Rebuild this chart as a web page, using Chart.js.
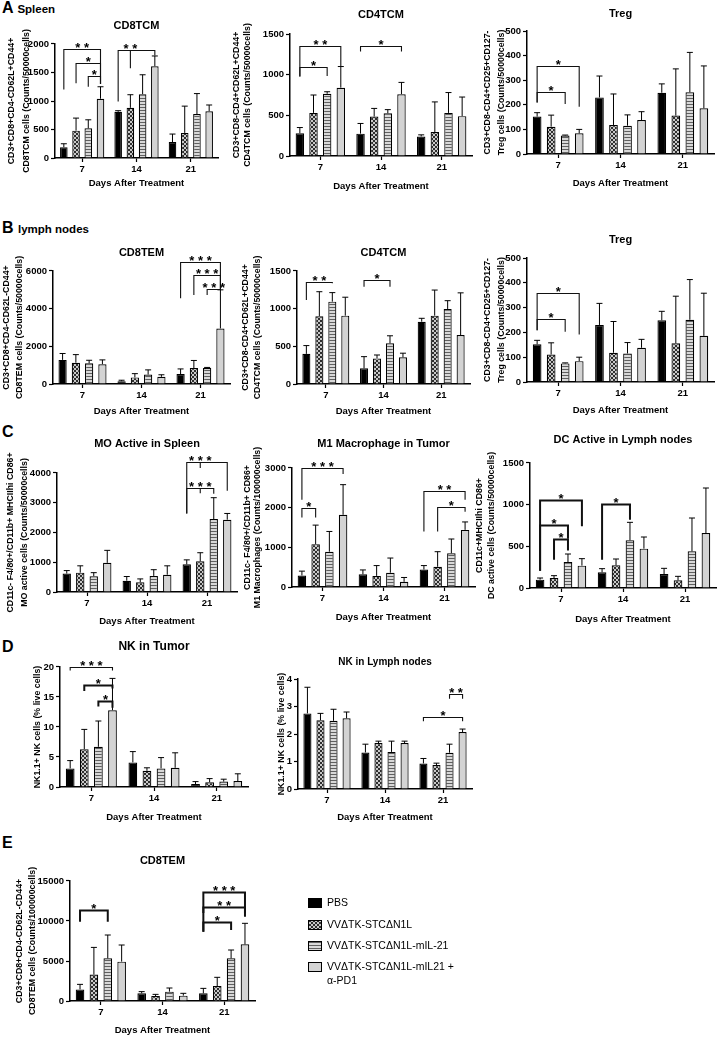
<!DOCTYPE html>
<html><head><meta charset="utf-8">
<script src="https://cdn.jsdelivr.net/npm/chart.js@4.4.1/dist/chart.umd.min.js"></script>
<style>
body{margin:0;background:#fff;}
#page{position:relative;width:721px;height:1037px;overflow:hidden;font-family:'Liberation Sans',Arial,sans-serif;background:#fff;}
canvas{position:absolute;}
.lbl{position:absolute;font-weight:bold;color:#000;white-space:nowrap;line-height:1;font-size:16px;}
.lbl span{font-size:11.5px;}
</style></head><body><div id="page">
<div class="lbl" style="left:2px;top:0px">A <span>Spleen</span></div>
<div class="lbl" style="left:2px;top:220px">B <span>lymph nodes</span></div>
<div class="lbl" style="left:2px;top:424px">C</div>
<div class="lbl" style="left:2px;top:639px">D</div>
<div class="lbl" style="left:2px;top:835px">E</div>
</div>
<script>
// ---------- data ----------
const days = ['7','14','21'];
const groupNames = ['PBS','VVΔTK-STCΔN1L','VVΔTK-STCΔN1L-mIL-21','VVΔTK-STCΔN1L-mIL21 + α-PD1'];
const xAxisTitle = 'Days After Treatment';

// each: 4 series (groups) x 3 days
const spleenCD8TCM_mean = [[190,810,280],[480,880,440],[520,1120,770],[1040,1610,820]];
const spleenCD8TCM_sd   = [[60,20,140],[220,230,470],[150,340,360],[210,180,110]];
const spleenCD4TCM_mean = [[280,275,240],[530,485,295],[765,525,530],[840,760,490]];
const spleenCD4TCM_sd   = [[70,125,20],[220,100,370],[25,45,250],[260,145,235]];
const spleenTreg_mean   = [[152,230,249],[111,118,156],[75,115,251],[84,138,186]];
const spleenTreg_sd     = [[16,87,36],[47,126,190],[2,44,162],[16,34,172]];
const lnCD8TEM_mean     = [[1280,150,530],[1130,350,850],[1100,500,850],[1050,380,2950]];
const lnCD8TEM_sd       = [[340,50,270],[430,200,400],[160,250,30],[230,110,2050]];
const lnCD4TCM_mean     = [[400,208,827],[900,340,907],[1093,540,996],[907,354,650]];
const lnCD4TCM_sd       = [[110,155,45],[325,45,340],[120,100,110],[245,55,560]];
const lnTreg_mean       = [[152,230,249],[111,118,156],[75,115,251],[84,138,186]];
const lnTreg_sd         = [[16,87,36],[47,126,190],[2,44,162],[16,34,172]];
const moSpleen_mean     = [[620,380,930],[650,330,1030],[530,540,2450],[980,580,2430]];
const moSpleen_sd       = [[100,140,150],[230,110,290],[120,210,720],[420,300,210]];
const m1Tumor_mean      = [[290,320,440],[1080,280,510],[890,360,850],[1820,130,1440]];
const m1Tumor_sd        = [[110,110,100],[480,260,380],[510,370,360],[760,110,200]];
const dcLN_mean         = [[100,188,168],[120,272,92],[312,572,440],[268,472,660]];
const dcLN_sd           = [[20,44,68],[28,76,48],[96,216,400],[84,140,540]];
const nkTumor_mean      = [[3.1,4.1,0.5],[6.3,2.7,0.8],[6.7,3.1,0.9],[12.8,3.2,1.0]];
const nkTumor_sd        = [[1.3,1.8,0.4],[3.3,0.5,0.6],[4.3,1.8,0.4],[5.3,2.5,1.2]];
const nkLN_mean         = [[2.75,1.33,0.93],[2.5,1.67,0.87],[2.48,1.35,1.32],[2.57,1.67,2.07]];
const nkLN_sd           = [[0.95,0.3,0.18],[0.25,0.07,0.07],[0.42,0.39,0.31],[0.23,0.07,0.11]];
const eCD8TEM_mean      = [[1450,960,960],[3300,625,1875],[5330,1170,5330],[4920,670,7080]];
const eCD8TEM_sd        = [[630,210,620],[3400,205,1085],[2920,455,1045],[2080,290,2630]];

// significance brackets: g=day index, a/b = group indices, y = bar height, la/lb = leg ends
const spleenCD8TCM_sig = [
  {g:0,a:0,b:3,y:1910,la:1200,lb:1300,t:'* *'},
  {g:0,a:1,b:3,y:1660,la:1310,lb:1300,t:'*'},
  {g:0,a:2,b:3,y:1430,la:1250,lb:1300,t:'*'},
  {g:1,a:0,b:3,y:1895,la:990,lb:1800,t:'* *',mid:[1,1574]}];
const spleenCD4TCM_sig = [
  {g:0,a:0,b:3,y:1347,la:976,lb:1100,t:'* *'},
  {g:0,a:0,b:2,y:1092,la:976,lb:985,t:'*'},
  {g:1,a:0,b:3,y:1347,la:1285,lb:1285,t:'*'}];
const spleenTreg_sig = [
  {g:0,a:0,b:3,y:359,la:209,lb:192,t:'*'},
  {g:0,a:0,b:2,y:253,la:209,lb:203,t:'*'}];
const lnCD8TEM_sig = [
  {g:2,a:0,b:3,y:6500,la:4550,lb:5000,t:'* * *'},
  {g:2,a:1,b:3,y:5790,la:4720,lb:5000,t:'* * *'},
  {g:2,a:2,b:3,y:5040,la:4720,lb:5000,t:'* * *'}];
const lnCD4TCM_sig = [
  {g:0,a:0,b:2,y:1358,la:1115,lb:1336,t:'* *'},
  {g:1,a:0,b:2,y:1380,la:1292,lb:1292,t:'*'}];
const lnTreg_sig = spleenTreg_sig;
const moSpleen_sig = [
  {g:2,a:0,b:3,y:4370,la:2640,lb:3400,t:'* * *',mid:[1,4168]},
  {g:2,a:0,b:2,y:3510,la:2640,lb:3300,t:'* * *',mid:[1,3320]}];
const m1Tumor_sig = [
  {g:0,a:0,b:3,y:3000,la:2200,lb:2850,t:'* * *'},
  {g:0,a:0,b:1,y:2000,la:1750,lb:1750,t:'*'},
  {g:2,a:0,b:3,y:2410,la:1400,lb:2200,t:'* *'},
  {g:2,a:1,b:3,y:2010,la:1400,lb:1900,t:'*'}];
const dcLN_sig = [
  {g:0,a:0,b:3,y:1060,la:208,lb:740,t:'*',w:2},
  {g:0,a:0,b:2,y:760,la:208,lb:592,t:'*',w:2},
  {g:0,a:1,b:2,y:588,la:340,lb:450,t:'*',w:2},
  {g:1,a:0,b:2,y:1012,la:340,lb:820,t:'*',w:2}];
const nkTumor_sig = [
  {g:0,a:0,b:3,y:20,la:19.4,lb:19.4,t:'* * *'},
  {g:0,a:1,b:3,y:17,la:16,lb:16.4,t:'*',w:2},
  {g:0,a:2,b:3,y:14.3,la:13.4,lb:13.2,t:'*',w:2}];
const nkLN_sig = [
  {g:2,a:2,b:3,y:3.46,la:3.28,lb:3.28,t:'* *'},
  {g:2,a:0,b:3,y:2.62,la:2.46,lb:2.46,t:'*'}];
const eCD8TEM_sig = [
  {g:0,a:0,b:2,y:11375,la:9920,lb:9920,t:'*',w:2},
  {g:2,a:0,b:3,y:13670,la:8670,lb:10540,t:'* * *',w:2},
  {g:2,a:0,b:3,y:11700,la:11000,lb:11000,t:'* *',w:2},
  {g:2,a:0,b:2,y:9920,la:8670,lb:8875,t:'*',w:2}];

// ---------- styling ----------
const FONT = "'Liberation Sans', Arial, sans-serif";
function hasFont(name){
  const c=document.createElement('canvas').getContext('2d');
  const s='abcdefghijklmABCDEFGH0123456789';
  c.font='20px monospace'; const w1=c.measureText(s).width;
  c.font='20px "'+name+'", monospace'; const w2=c.measureText(s).width;
  return Math.abs(w1-w2)>0.5;
}
const NARROW = hasFont('Liberation Sans Narrow');
const YT_FAMILY = NARROW ? "'Liberation Sans Narrow', 'Liberation Sans', Arial" : FONT;
const YT_SIZE = NARROW ? 10.5 : 8.8;

function makePattern(kind){
  const c=document.createElement('canvas'); const x=c.getContext('2d');
  if(kind==='checker'){
    c.width=4;c.height=4; x.fillStyle='#2e2e2e'; x.fillRect(0,0,4,4);
    x.fillStyle='#c8c8c8'; x.fillRect(0,0,2,2); x.fillRect(2,2,2,2);
  } else {
    c.width=4;c.height=3; x.fillStyle='#d8d8d8'; x.fillRect(0,0,4,3);
    x.fillStyle='#606060'; x.fillRect(0,0,4,1);
  }
  return x.createPattern(c,'repeat');
}
const fills = ['#000000', makePattern('checker'), makePattern('stripe'), '#d3d3d3'];

// ---------- chart builder ----------
function build(o){
  const titleSize=o.titleSize||11, lhT=titleSize*1.2;
  const xtSize=9.5, lhX=xtSize*1.2;
  const yLH=o.yLH||12;
  const bx=Math.floor(o.yTitleX-yLH/2-2);
  const by=Math.floor(o.titleY-lhT/2-2);
  const right=o.canvasRight||(o.area[1]+6);
  const bw=right-bx;
  const bh=Math.ceil(o.xTitleY+lhX/2+2)-by;
  const cv=document.createElement('canvas');
  cv.width=bw; cv.height=bh; cv.style.left=bx+'px'; cv.style.top=by+'px';
  document.getElementById('page').appendChild(cv);

  const datasets=o.mean.map((ser,i)=>({
    label:groupNames[i], data:ser, backgroundColor:fills[i], borderColor:'#000', borderWidth:1.2,
    categoryPercentage:0.9, barPercentage:0.62
  }));

  const overlay={
    id:'overlay',
    afterDatasetsDraw(chart){
      const ctx=chart.ctx, ys=chart.scales.y;
      ctx.save(); ctx.strokeStyle='#000'; ctx.lineWidth=1;
      o.mean.forEach((ser,i)=>{
        const meta=chart.getDatasetMeta(i);
        ser.forEach((m,g)=>{
          const x=meta.data[g].x, y0=ys.getPixelForValue(m), y1=ys.getPixelForValue(m+o.sd[i][g]);
          ctx.beginPath(); ctx.moveTo(x,y0); ctx.lineTo(x,y1);
          ctx.moveTo(x-3,y1); ctx.lineTo(x+3,y1); ctx.stroke();
        });
      });
      ctx.restore();
    },
    afterDraw(chart){
      const ctx=chart.ctx, ys=chart.scales.y;
      const bxp=(i,g)=>chart.getDatasetMeta(i).data[g].x;
      ctx.save();
      (o.sig||[]).forEach(b=>{
        const xa=bxp(b.a,b.g), xb=bxp(b.b,b.g), y=Math.round(ys.getPixelForValue(b.y))+0.5;
        ctx.strokeStyle='#111'; ctx.lineWidth=b.w||1.1;
        ctx.beginPath();
        ctx.moveTo(xa,ys.getPixelForValue(b.la)); ctx.lineTo(xa,y); ctx.lineTo(xb,y); ctx.lineTo(xb,ys.getPixelForValue(b.lb));
        let xt=(xa+xb)/2;
        if(b.mid){ const xm=bxp(b.mid[0],b.g); ctx.moveTo(xm,y); ctx.lineTo(xm,ys.getPixelForValue(b.mid[1])); xt=xm; }
        ctx.stroke();
        ctx.fillStyle='#000'; ctx.font='bold 13px '+FONT; ctx.textAlign='center'; ctx.textBaseline='alphabetic';
        ctx.fillText(b.t,xt,y+2.5);
      });
      if(o.legend){
        const L=o.legend;
        ctx.font='10.5px '+FONT; ctx.textAlign='left'; ctx.textBaseline='middle';
        groupNames.forEach((name,i)=>{
          const cy=L.rows[i]-by, x0=L.x-bx;
          ctx.fillStyle=fills[i]; ctx.fillRect(x0,cy-5,14,10);
          ctx.strokeStyle='#000'; ctx.lineWidth=1; ctx.strokeRect(x0+0.5,cy-4.5,13,9);
          ctx.fillStyle='#000';
          const parts=name.indexOf(' + ')>0 ? [name.slice(0,name.indexOf(' + ')+2), name.slice(name.indexOf(' + ')+3)] : [name];
          parts.forEach((p,k)=>ctx.fillText(p,x0+19,cy+k*14));
        });
      }
      ctx.restore();
    }
  };

  new Chart(cv,{
    type:'bar',
    data:{labels:days,datasets},
    options:{
      responsive:false, animation:false, events:[], devicePixelRatio:1,
      layout:{padding:{left:0,top:0,bottom:0,right:right-o.area[1]}},
      plugins:{
        legend:{display:false}, tooltip:{enabled:false},
        title:{display:true,text:o.title,color:'#000',fullSize:false,
          font:{family:FONT,size:titleSize,weight:'bold',lineHeight:1.2},
          padding:{top:o.titleY-lhT/2-by,bottom:o.area[2]-(o.titleY+lhT/2)}}
      },
      scales:{
        x:{
          grid:{display:true,drawOnChartArea:false,drawTicks:true,tickLength:4,tickWidth:1.2,tickColor:'#000',offset:false},
          border:{display:true,color:'#000',width:1.5},
          ticks:{color:'#000',padding:2,font:{family:FONT,size:9.5,weight:'bold'}},
          title:{display:true,text:xAxisTitle,color:'#000',font:{family:FONT,size:xtSize,weight:'bold',lineHeight:1.2},
            padding:{top:0,bottom:(by+bh)-o.xTitleY-lhX/2}},
          afterFit:s=>{s.height=(by+bh)-o.area[3];}
        },
        y:{
          min:0,max:o.max,
          grid:{display:true,drawOnChartArea:false,drawTicks:true,tickLength:4,tickWidth:1.2,tickColor:'#000'},
          border:{display:true,color:'#000',width:1.5},
          ticks:{stepSize:o.step,color:'#000',padding:2,font:{family:FONT,size:9.5,weight:'bold'},callback:v=>String(v)},
          title:{display:true,text:o.yTitle,color:'#000',font:{family:YT_FAMILY,size:YT_SIZE,weight:'bold',lineHeight:yLH/YT_SIZE},
            padding:{top:o.yTitleX-yLH/2-bx,bottom:0}},
          afterFit:s=>{s.width=o.area[0]-bx;}
        }
      }
    },
    plugins:[overlay]
  });
}

const defs=[
 {title:'CD8TCM',mean:spleenCD8TCM_mean,sd:spleenCD8TCM_sd,sig:spleenCD8TCM_sig,max:2000,step:500,
  yTitle:['CD3+CD8+CD4-CD62L+CD44+','CD8TCM cells (Counts/50000cells)'],area:[55,218,44,158],titleY:26,xTitleY:183,yTitleX:12,yLH:15},
 {title:'CD4TCM',mean:spleenCD4TCM_mean,sd:spleenCD4TCM_sd,sig:spleenCD4TCM_sig,max:1500,step:500,
  yTitle:['CD3+CD8-CD4+CD62L+CD44+','CD4TCM cells (Counts/50000cells)'],area:[290,472,34,156],titleY:15,xTitleY:186,yTitleX:237,yLH:11},
 {title:'Treg',mean:spleenTreg_mean,sd:spleenTreg_sd,sig:spleenTreg_sig,max:500,step:100,
  yTitle:['CD3+CD8-CD4+CD25+CD127-','Treg cells (Counts/50000cells)'],area:[527,714,31,154],titleY:14,xTitleY:183,yTitleX:488,yLH:14},
 {title:'CD8TEM',mean:lnCD8TEM_mean,sd:lnCD8TEM_sd,sig:lnCD8TEM_sig,max:6000,step:2000,
  yTitle:['CD3+CD8+CD4-CD62L-CD44+','CD8TEM cells (Counts/50000cells)'],area:[53,230,271,384],titleY:253,xTitleY:411,yTitleX:7,yLH:13},
 {title:'CD4TCM',mean:lnCD4TCM_mean,sd:lnCD4TCM_sd,sig:lnCD4TCM_sig,max:1500,step:500,
  yTitle:['CD3+CD8-CD4+CD62L+CD44+','CD4TCM cells (Counts/50000cells)'],area:[297,470,271,384],titleY:253,xTitleY:411,yTitleX:246,yLH:12},
 {title:'Treg',mean:lnTreg_mean,sd:lnTreg_sd,sig:lnTreg_sig,max:500,step:100,
  yTitle:['CD3+CD8-CD4+CD25+CD127-','Treg cells (Counts/50000cells)'],area:[527,714,258,382],titleY:240,xTitleY:410,yTitleX:488,yLH:14},
 {title:'MO Active in Spleen',mean:moSpleen_mean,sd:moSpleen_sd,sig:moSpleen_sig,max:4000,step:1000,
  yTitle:['CD11c- F4/80+/CD11b+ MHCIIhi CD86+','MO active cells (Counts/50000cells)'],area:[57,237,473,592],titleY:444,xTitleY:621,yTitleX:11,yLH:14},
 {title:'M1 Macrophage in Tumor',mean:m1Tumor_mean,sd:m1Tumor_sd,sig:m1Tumor_sig,max:3000,step:1000,
  yTitle:['CD11c- F4/80+/CD11b+ CD86+','M1 Macrophages (Counts/100000cells)'],area:[292,475,468,587],titleY:444,xTitleY:617,yTitleX:248,yLH:10},
 {title:'DC Active in Lymph nodes',mean:dcLN_mean,sd:dcLN_sd,sig:dcLN_sig,max:1500,step:500,
  yTitle:['CD11c+MHCIIhi CD86+','DC active cells (Counts/50000cells)'],area:[530,716,463,588],titleY:440,xTitleY:619,yTitleX:480,yLH:12},
 {title:'NK in Tumor',titleSize:12,mean:nkTumor_mean,sd:nkTumor_sd,sig:nkTumor_sig,max:20,step:5,
  yTitle:'NK1.1+ NK cells (% live cells)',area:[60,248,667,787],titleY:647,xTitleY:817,yTitleX:38,yLH:12},
 {title:'NK in Lymph nodes',titleSize:10,mean:nkLN_mean,sd:nkLN_sd,sig:nkLN_sig,max:4,step:1,
  yTitle:'NK1.1+ NK cells (% live cells)',area:[298,472,679,789],titleY:662,xTitleY:817,yTitleX:282,yLH:12},
 {title:'CD8TEM',mean:eCD8TEM_mean,sd:eCD8TEM_sd,sig:eCD8TEM_sig,max:15000,step:5000,
  yTitle:['CD3+CD8+CD4-CD62L-CD44+','CD8TEM cells (Counts/100000cells)'],area:[70,255,881,1001],titleY:861,xTitleY:1030,yTitleX:20,yLH:13,
  canvasRight:500, legend:{x:308, rows:[903,925,946,967]}}
];
defs.forEach(build);
</script></body></html>
